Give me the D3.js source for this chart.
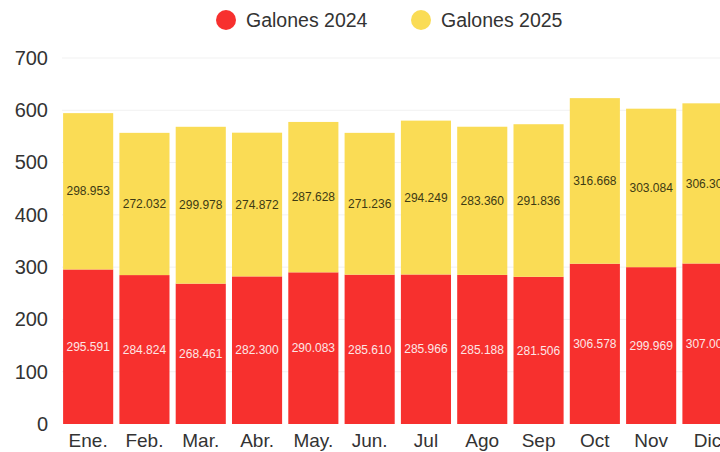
<!DOCTYPE html>
<html>
<head>
<meta charset="utf-8">
<script src="https://cdn.jsdelivr.net/npm/d3@7"></script>
<style>
  html, body { margin: 0; padding: 0; background: #fff; overflow: hidden; }
  svg { display: block; font-family: "Liberation Sans", Arial, sans-serif; }
</style>
</head>
<body>
<svg id="chart" width="720" height="452"></svg>
<script>
// Monthly gallons (thousands) for 2024 and 2025, stacked per month
const months = ["Ene.", "Feb.", "Mar.", "Abr.", "May.", "Jun.", "Jul", "Ago", "Sep", "Oct", "Nov", "Dic"];
const galones2024 = [295.591, 284.824, 268.461, 282.300, 290.083, 285.610, 285.966, 285.188, 281.506, 306.578, 299.969, 307.002];
const galones2025 = [298.953, 272.032, 299.978, 274.872, 287.628, 271.236, 294.249, 283.360, 291.836, 316.668, 303.084, 306.302];
const yTicks = [0, 100, 200, 300, 400, 500, 600, 700];
const seriesNames = ["Galones 2024", "Galones 2025"];
const seriesColors = ["#f7302e", "#fadc55"];

const svg = d3.select("#chart");

const rows = months.map((m, i) => ({ month: m, s2024: galones2024[i], s2025: galones2025[i] }));
const stack = d3.stack().keys(["s2024", "s2025"]);
const layers = stack(rows);

const x = d3.scaleBand()
  .domain(months)
  .range([60, 60 + 12 * 56.3])
  .paddingInner(0.11)
  .paddingOuter(0.055);

const y = d3.scaleLinear().domain([0, 700]).range([424, 58]);

// faint horizontal grid
svg.append("g")
  .selectAll("line")
  .data(yTicks.filter(t => t > 0))
  .join("line")
  .attr("x1", 62).attr("x2", 720)
  .attr("y1", d => y(d)).attr("y2", d => y(d))
  .attr("stroke", "#f1f1f1").attr("stroke-width", 1);

// y axis labels
const yAxis = d3.axisLeft(y).tickValues(yTicks).tickSize(0).tickPadding(0);
svg.append("g")
  .attr("transform", "translate(48,0)")
  .call(yAxis)
  .call(g => g.select(".domain").remove())
  .call(g => g.selectAll("text")
    .attr("font-size", 20)
    .attr("fill", "#333")
    .attr("font-family", "Liberation Sans, Arial, sans-serif"));

// stacked bars
const layerG = svg.append("g")
  .selectAll("g")
  .data(layers)
  .join("g")
  .attr("fill", (d, i) => seriesColors[i]);

layerG.selectAll("rect")
  .data(d => d)
  .join("rect")
  .attr("x", d => x(d.data.month))
  .attr("width", x.bandwidth())
  .attr("y", d => y(d[1]))
  .attr("height", d => y(d[0]) - y(d[1]));

// value labels centred in each segment
const fmt = v => d3.format(".3f")(v);
layerG.selectAll("text")
  .data(d => d)
  .join("text")
  .attr("x", d => x(d.data.month) + x.bandwidth() / 2)
  .attr("y", d => (y(d[0]) + y(d[1])) / 2)
  .attr("dy", "0.35em")
  .attr("text-anchor", "middle")
  .attr("font-size", 12)
  .attr("fill", function () {
    return d3.select(this.parentNode).datum().key === "s2024" ? "#fde6e6" : "#3d3a14";
  })
  .text(d => fmt(d[1] - d[0]));

// x axis labels
const xAxis = d3.axisBottom(x).tickSize(0).tickPadding(0);
svg.append("g")
  .attr("transform", "translate(0,433)")
  .call(xAxis)
  .call(g => g.select(".domain").remove())
  .call(g => g.selectAll("text")
    .attr("font-size", 19)
    .attr("fill", "#333")
    .attr("font-family", "Liberation Sans, Arial, sans-serif"));

// legend
const legendX = [226, 421];
const legend = svg.append("g")
  .selectAll("g")
  .data(seriesNames)
  .join("g")
  .attr("transform", (d, i) => `translate(${legendX[i]},20)`);
legend.append("circle").attr("r", 10).attr("fill", (d, i) => seriesColors[i]);
legend.append("text")
  .attr("x", 20)
  .attr("dy", "0.35em")
  .attr("font-size", 19.5)
  .attr("fill", "#333")
  .text(d => d);
</script>
</body>
</html>
